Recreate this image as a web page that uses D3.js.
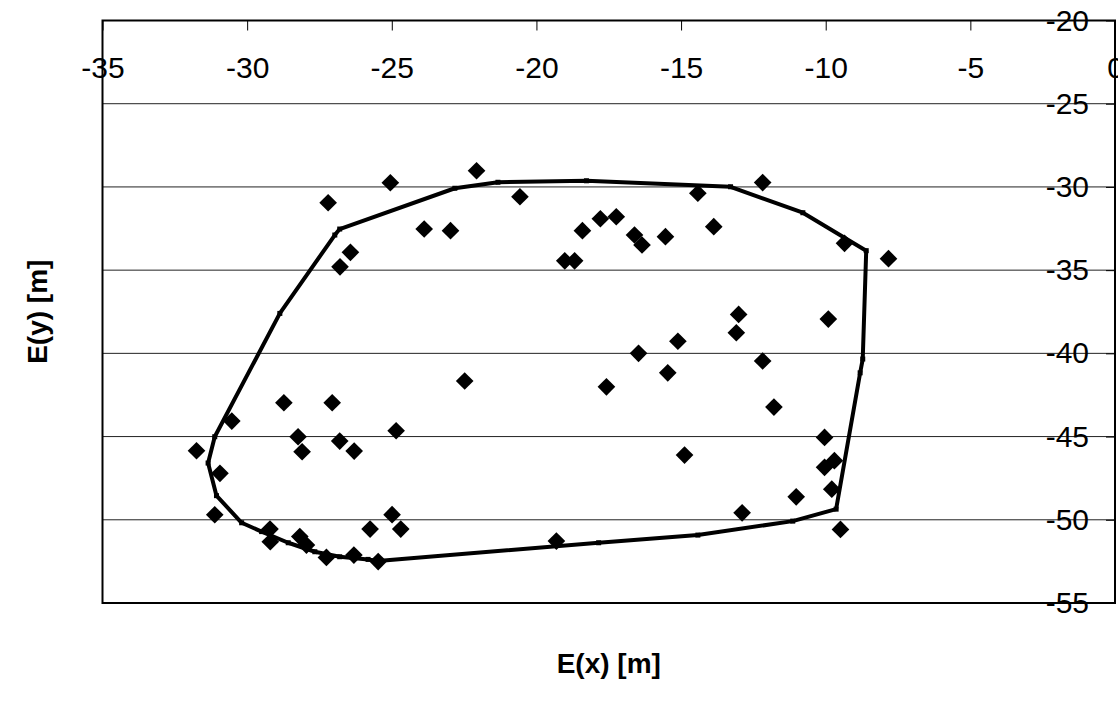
<!DOCTYPE html>
<html>
<head>
<meta charset="utf-8">
<script src="https://cdn.jsdelivr.net/npm/d3@7.9.0/dist/d3.min.js"></script>
<style>
  body { margin: 0; background: #fff; }
  svg { display: block; font-family: "Liberation Sans", Arial, sans-serif; }
  .tick text { font-size: 30px; fill: #000; font-family: "Liberation Sans", Arial, sans-serif; }
  .axis-title { font-size: 28px; font-weight: bold; font-family: "Liberation Sans", Arial, sans-serif; }
</style>
</head>
<body>
<svg id="chart" width="1118" height="704"></svg>
<script>
/* ---------- Data ---------- */
// measured points: E(x), E(y) in metres
const pointX = [
  -27.20, -25.05, -23.88, -22.97, -26.43, -26.79, -22.07, -20.57, -18.41, -17.79,
  -17.24, -16.61, -16.35, -15.54, -19.02, -18.68, -14.42, -13.87, -12.18, -9.35,
  -7.83, -9.91, -13.01, -13.09, -15.11, -16.47,
  -22.48, -17.58, -15.46, -12.18, -11.79, -14.88, -19.31, -12.89, -11.02, -9.49,
  -10.04, -9.70, -10.04, -9.79,
  -28.73, -27.06, -30.53, -24.85, -28.24, -26.80, -31.75, -28.10, -26.30, -30.94,
  -31.12, -24.99, -25.75, -24.69, -29.21, -29.20, -28.18, -27.95, -27.26, -26.31,
  -25.47
];
const pointY = [
  -30.95, -29.75, -32.53, -32.63, -33.93, -34.80, -29.03, -30.59, -32.63, -31.91,
  -31.79, -32.89, -33.49, -32.99, -34.44, -34.44, -30.38, -32.39, -29.74, -33.39,
  -34.31, -37.94, -37.66, -38.76, -39.27, -40.00,
  -41.66, -42.01, -41.17, -40.46, -43.23, -46.11, -51.28, -49.58, -48.62, -50.58,
  -45.05, -46.45, -46.85, -48.16,
  -42.97, -42.97, -44.07, -44.65, -45.01, -45.27, -45.85, -45.91, -45.87, -47.21,
  -49.70, -49.69, -50.56, -50.56, -50.56, -51.32, -51.01, -51.52, -52.26, -52.12,
  -52.51
];

// enclosing outline (closed polygon)
const hullX = [
  -26.80, -22.82, -21.33, -18.27, -13.29, -10.79, -8.60, -8.72, -8.81, -9.64,
  -11.14, -14.42, -17.85, -25.48, -25.82, -26.80, -27.66, -28.58, -29.50, -30.19,
  -31.06, -31.35, -31.12, -28.87, -26.97
];
const hullY = [
  -32.53, -30.08, -29.72, -29.63, -29.99, -31.55, -33.83, -40.34, -41.17, -49.36,
  -50.08, -50.92, -51.38, -52.48, -52.38, -52.22, -51.92, -51.38, -50.71, -50.18,
  -48.55, -46.59, -45.01, -37.60, -32.89
];

const xTicks = [-35, -30, -25, -20, -15, -10, -5, 0];
const yTicks = [-55, -50, -45, -40, -35, -30, -25, -20];

/* ---------- Layout ---------- */
const svg = d3.select('#chart');
const plot = { left: 102.5, right: 1115, top: 20.5, bottom: 603 };

const x = d3.scaleLinear().domain([-35, 0]).range([plot.left, plot.right]);
const y = d3.scaleLinear().domain([-55, -20]).range([plot.bottom, plot.top]);

const plain = d => String(d);   // hyphen-minus, like the original

// horizontal gridlines
svg.append('g')
  .selectAll('line')
  .data(yTicks)
  .join('line')
  .attr('x1', plot.left).attr('x2', plot.right)
  .attr('y1', d => y(d)).attr('y2', d => y(d))
  .attr('stroke', '#222').attr('stroke-width', 1);

// x axis sits on the top edge (crosses at E(y) = -20), labels below it
const xAxis = svg.append('g')
  .attr('transform', `translate(0,${plot.top})`)
  .call(d3.axisBottom(x).tickValues(xTicks).tickFormat(plain)
    .tickSize(10).tickPadding(26));
xAxis.select('.domain').remove();
xAxis.selectAll('.tick line').attr('stroke', '#000').attr('stroke-width', 1);

// y axis sits on the right edge (crosses at E(x) = 0), labels to its left
const yAxis = svg.append('g')
  .attr('transform', `translate(${plot.right},0)`)
  .call(d3.axisLeft(y).tickValues(yTicks).tickFormat(plain)
    .tickSize(9).tickPadding(17));
yAxis.select('.domain').remove();
yAxis.selectAll('.tick line').attr('stroke', '#000').attr('stroke-width', 1);

// frame
svg.append('rect')
  .attr('x', plot.left).attr('y', plot.top)
  .attr('width', plot.right - plot.left).attr('height', plot.bottom - plot.top)
  .attr('fill', 'none').attr('stroke', '#000').attr('stroke-width', 2);

/* ---------- Outline ---------- */
const hull = hullX.map((v, i) => [v, hullY[i]]);
svg.append('path')
  .datum(hull)
  .attr('d', d3.line().x(d => x(d[0])).y(d => y(d[1])).curve(d3.curveLinearClosed))
  .attr('fill', 'none').attr('stroke', '#000').attr('stroke-width', 4)
  .attr('stroke-linejoin', 'round');

svg.append('g')
  .selectAll('rect')
  .data(hull)
  .join('rect')
  .attr('x', d => x(d[0]) - 2.5).attr('y', d => y(d[1]) - 2.5)
  .attr('width', 5).attr('height', 5)
  .attr('fill', '#000');

/* ---------- Points ---------- */
const points = pointX.map((v, i) => [v, pointY[i]]);
const diamond = d3.symbol(d3.symbolSquare, 156);
svg.append('g')
  .selectAll('path')
  .data(points)
  .join('path')
  .attr('d', diamond)
  .attr('transform', d => `translate(${x(d[0])},${y(d[1])}) rotate(45)`)
  .attr('fill', '#000');

/* ---------- Axis titles ---------- */
svg.append('text')
  .attr('class', 'axis-title')
  .attr('x', (plot.left + plot.right) / 2).attr('y', 673)
  .attr('text-anchor', 'middle')
  .text('E(x) [m]');

svg.append('text')
  .attr('class', 'axis-title')
  .attr('transform', `translate(47,${(plot.top + plot.bottom) / 2}) rotate(-90)`)
  .attr('text-anchor', 'middle')
  .text('E(y) [m]');
</script>
</body>
</html>
